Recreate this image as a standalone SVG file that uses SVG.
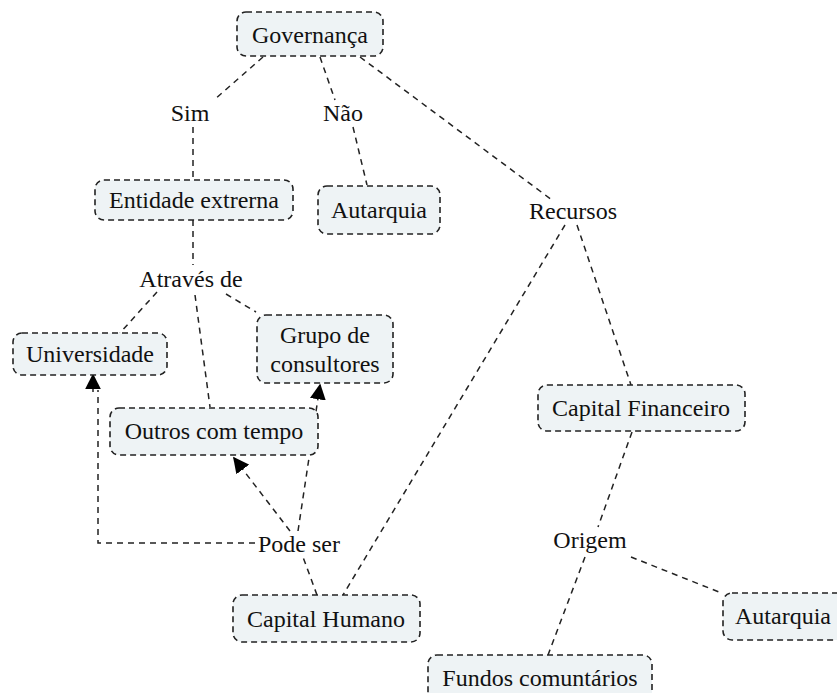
<svg xmlns="http://www.w3.org/2000/svg" width="837" height="693" viewBox="0 0 837 693">
<style>
.box{fill:#eef3f5;stroke:#222;stroke-width:1.6;stroke-dasharray:6 4}
.t{font-size:24px;fill:#111;text-anchor:middle}
.c{fill:none;stroke:#222;stroke-width:1.5;stroke-dasharray:6 5}
</style>
<defs>
<marker id="arw" viewBox="0 0 10 10" refX="9" refY="5" markerWidth="16" markerHeight="16" orient="auto" markerUnits="userSpaceOnUse">
<path d="M0,0 L10,5 L0,10 z" fill="#000"/>
</marker>
</defs>
<rect width="837" height="693" fill="#fff"/>
<g id="connectors">
<line class="c" x1="263" y1="57" x2="214" y2="100"/>
<line class="c" x1="193" y1="127" x2="193" y2="180"/>
<line class="c" x1="320" y1="57" x2="335" y2="100"/>
<line class="c" x1="353" y1="127" x2="367" y2="185"/>
<line class="c" x1="360" y1="57" x2="552" y2="200"/>
<line class="c" x1="565" y1="225" x2="343" y2="595"/>
<line class="c" x1="577" y1="225" x2="631" y2="385"/>
<line class="c" x1="193" y1="220" x2="193" y2="265"/>
<line class="c" x1="157" y1="292" x2="120" y2="333"/>
<line class="c" x1="195" y1="295" x2="210" y2="407"/>
<line class="c" x1="226" y1="294" x2="256" y2="312"/>
<line class="c" x1="317" y1="595" x2="303" y2="557"/>
<line class="c" x1="290" y1="531" x2="234" y2="458" marker-end="url(#arw)"/>
<line class="c" x1="298" y1="531" x2="320" y2="385" marker-end="url(#arw)"/>
<polyline class="c" points="255,543 98,543 98,390"/>
<line x1="93" y1="392" x2="93" y2="375" stroke="#222" stroke-width="1.5" marker-end="url(#arw)"/>
<line class="c" x1="632" y1="432" x2="598" y2="527"/>
<line class="c" x1="585" y1="557" x2="548" y2="655"/>
<line class="c" x1="631" y1="557" x2="719" y2="592"/>
</g>
<g font-family="Liberation Serif, Times New Roman, serif">
<g id="n-governanca"><rect class="box" x="237" y="12" width="146" height="44" rx="9"/><text class="t" x="310" y="43">Governança</text></g>
<g id="l-sim"><text class="t" x="190" y="121">Sim</text></g>
<g id="l-nao"><text class="t" x="343" y="121">Não</text></g>
<g id="n-entidade"><rect class="box" x="95" y="180" width="198" height="40" rx="9"/><text class="t" x="194" y="208">Entidade extrerna</text></g>
<g id="n-autarquia1"><rect class="box" x="318" y="186" width="122" height="48" rx="9"/><text class="t" x="379" y="218">Autarquia</text></g>
<g id="l-recursos"><text class="t" x="573" y="219">Recursos</text></g>
<g id="l-atraves"><text class="t" x="191" y="287">Através de</text></g>
<g id="n-universidade"><rect class="box" x="13" y="333" width="154" height="42" rx="9"/><text class="t" x="90" y="362">Universidade</text></g>
<g id="n-grupo"><rect class="box" x="257" y="315" width="136" height="68" rx="9"/><text class="t" x="325" y="343">Grupo de</text><text class="t" x="325" y="372">consultores</text></g>
<g id="n-outros"><rect class="box" x="110" y="408" width="208" height="47" rx="9"/><text class="t" x="214" y="439">Outros com tempo</text></g>
<g id="l-podeser"><text class="t" x="299" y="552">Pode ser</text></g>
<g id="n-capitalhumano"><rect class="box" x="233" y="595" width="187" height="47" rx="9"/><text class="t" x="326" y="627">Capital Humano</text></g>
<g id="n-capitalfin"><rect class="box" x="538" y="385" width="207" height="46" rx="9"/><text class="t" x="641" y="416">Capital Financeiro</text></g>
<g id="l-origem"><text class="t" x="590" y="548">Origem</text></g>
<g id="n-autarquia2"><rect class="box" x="723" y="593" width="130" height="47" rx="9"/><text class="t" x="783" y="624">Autarquia</text></g>
<g id="n-fundos"><rect class="box" x="428" y="655" width="224" height="50" rx="9"/><text class="t" x="540" y="686">Fundos comuntários</text></g>
</g>
</svg>
